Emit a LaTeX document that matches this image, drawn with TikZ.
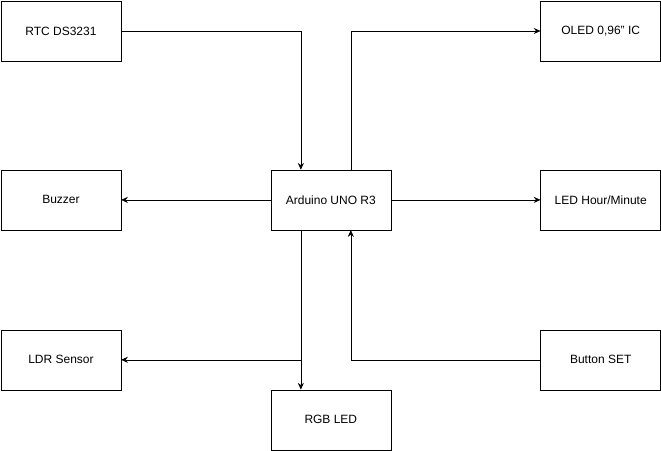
\documentclass[tikz,border=0pt]{standalone}
\usepackage{fontspec}
\setmainfont{Liberation Sans}
\usetikzlibrary{arrows.meta}
\begin{document}
\begin{tikzpicture}[x=1pt, y=-1pt, font=\fontsize{9}{11}\selectfont,
  block/.style={draw, minimum width=90pt, minimum height=45pt, inner sep=0pt},
  link/.style={-{Stealth[length=5pt,width=4.5pt]}}]
  \useasboundingbox (0,0) rectangle (496,338);

  \node[block] (rtc) at (45.75,23.25) {RTC DS3231};
  \node[block] (oled) at (450.75,23.25) {OLED 0,96'' IC};
  \node[block] (buzzer) at (45.75,150) {Buzzer};
  \node[block] (uno) at (248.25,150) {Arduino UNO R3};
  \node[block] (led) at (450.75,150) {LED Hour/Minute};
  \node[block] (ldr) at (45.75,270) {LDR Sensor};
  \node[block] (button) at (450.75,270) {Button SET};
  \node[block] (rgb) at (248.25,315) {RGB LED};

  \draw[link] (rtc.east) -| ([xshift=-22.5pt]uno.north);
  \draw[link] ([xshift=15pt]uno.north) |- (oled.west);
  \draw[link] (uno.west) -- (buzzer.west -| buzzer.east);
  \draw[link] (uno.east) -- (led.west);
  \draw[link] ([xshift=-22.5pt]uno.south) -- ([xshift=-22.5pt]rgb.north);
  \coordinate (fork) at ([xshift=-22.5pt]uno.south |- ldr.east);
  \draw[link] (fork) -- (ldr.east);
  \draw[link] (button.west) -| ([xshift=15pt]uno.south);
\end{tikzpicture}
\end{document}
